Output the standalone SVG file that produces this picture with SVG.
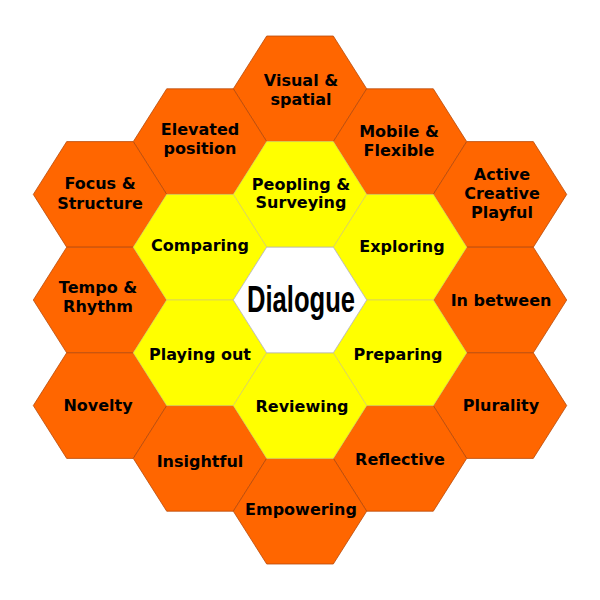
<svg xmlns="http://www.w3.org/2000/svg" xmlns:xlink="http://www.w3.org/1999/xlink" width="600" height="600" viewBox="0 0 600 600">
<defs>
<polygon id="hex" points="-66.7,0 -33.3,-52.8 33.3,-52.8 66.7,0 33.3,52.8 -33.3,52.8"/>
<style>
.o{fill:#FF6600;stroke:#B84A0A;stroke-width:0.8}
.y{fill:#FFFF00;stroke:#D8D060;stroke-width:0.8}
.w{fill:#FFFFFF;stroke:#B8B8B8;stroke-width:0.8}
text{font-family:"DejaVu Sans","Liberation Sans",sans-serif;font-weight:bold;font-size:16px;fill:#000;text-anchor:middle}
.big{font-family:"Liberation Sans",Arial,sans-serif;font-size:37px}
</style>
</defs>
<rect width="600" height="600" fill="#fff"/>
<g id="visual"><use xlink:href="#hex" class="o" x="300" y="88.8"/><text x="301" y="85.7">Visual &amp;</text><text x="301" y="104.5">spatial</text></g>
<g id="elevated"><use xlink:href="#hex" class="o" x="200" y="141.6"/><text x="200" y="135">Elevated</text><text x="200" y="154">position</text></g>
<g id="mobile"><use xlink:href="#hex" class="o" x="400" y="141.6"/><text x="399" y="136.7">Mobile &amp;</text><text x="399" y="155.7">Flexible</text></g>
<g id="focus"><use xlink:href="#hex" class="o" x="100" y="194.4"/><text x="100" y="189.3">Focus &amp;</text><text x="100" y="209">Structure</text></g>
<g id="active"><use xlink:href="#hex" class="o" x="500" y="194.4"/><text x="502" y="180">Active</text><text x="502" y="199">Creative</text><text x="502" y="218.3">Playful</text></g>
<g id="tempo"><use xlink:href="#hex" class="o" x="100" y="300"/><text x="98" y="292.7">Tempo &amp;</text><text x="98" y="311.7">Rhythm</text></g>
<g id="inbetween"><use xlink:href="#hex" class="o" x="500" y="300"/><text x="501" y="305.7">In between</text></g>
<g id="novelty"><use xlink:href="#hex" class="o" x="100" y="405.6"/><text x="98" y="411">Novelty</text></g>
<g id="plurality"><use xlink:href="#hex" class="o" x="500" y="405.6"/><text x="501" y="411">Plurality</text></g>
<g id="insightful"><use xlink:href="#hex" class="o" x="200" y="458.4"/><text x="200" y="466.5">Insightful</text></g>
<g id="reflective"><use xlink:href="#hex" class="o" x="400" y="458.4"/><text x="400" y="464.5">Reflective</text></g>
<g id="empowering"><use xlink:href="#hex" class="o" x="300" y="511.2"/><text x="301" y="515">Empowering</text></g>
<g id="peopling"><use xlink:href="#hex" class="y" x="300" y="194.4"/><text x="301" y="190">Peopling &amp;</text><text x="301" y="208.3">Surveying</text></g>
<g id="comparing"><use xlink:href="#hex" class="y" x="200" y="247.2"/><text x="200" y="250.7">Comparing</text></g>
<g id="exploring"><use xlink:href="#hex" class="y" x="400" y="247.2"/><text x="402" y="251.7">Exploring</text></g>
<g id="playingout"><use xlink:href="#hex" class="y" x="200" y="352.8"/><text x="200" y="360">Playing out</text></g>
<g id="preparing"><use xlink:href="#hex" class="y" x="400" y="352.8"/><text x="398" y="360">Preparing</text></g>
<g id="reviewing"><use xlink:href="#hex" class="y" x="300" y="405.6"/><text x="302" y="411.5">Reviewing</text></g>
<g id="dialogue"><use xlink:href="#hex" class="w" x="300" y="300"/><text class="big" x="301" y="311.7" textLength="108" lengthAdjust="spacingAndGlyphs">Dialogue</text></g>
<g id="connectors"/>
</svg>
